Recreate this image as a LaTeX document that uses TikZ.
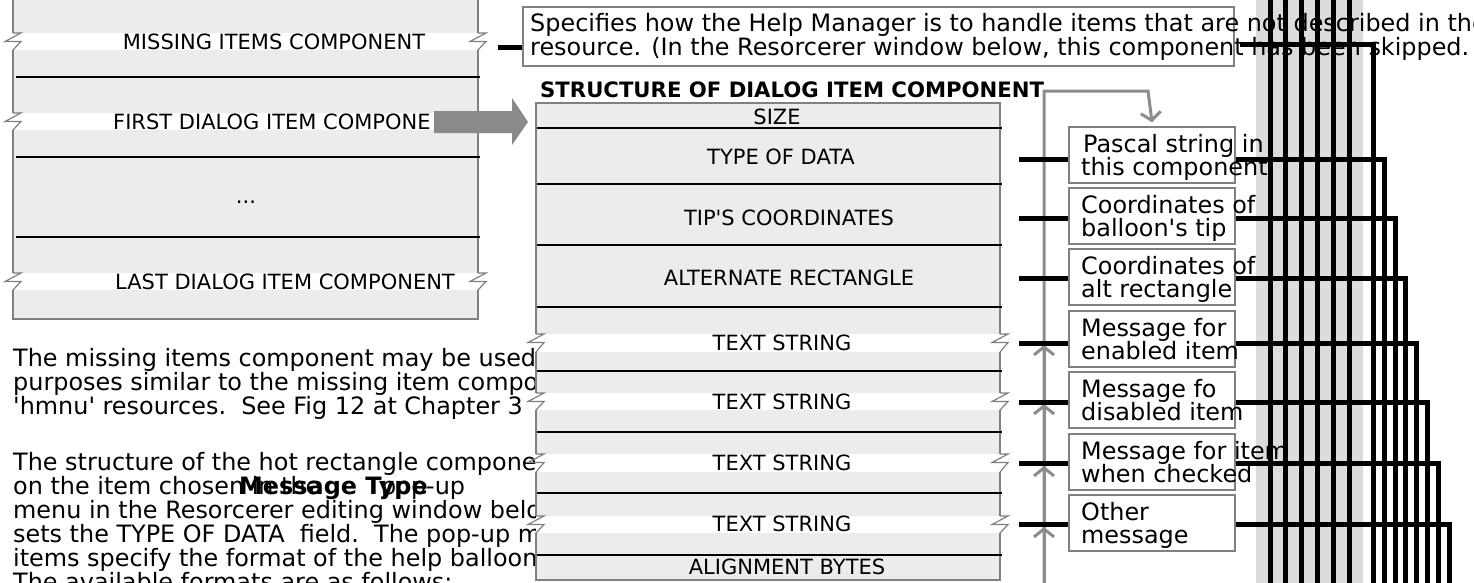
\documentclass[tikz,border=0pt]{standalone}
\usepackage{fontspec}
\setmainfont{DejaVu Sans}
\usetikzlibrary{arrows.meta}
\definecolor{blkfill}{HTML}{ECECEC}
\definecolor{bord}{HTML}{808080}
\definecolor{bandgray}{HTML}{DCDCDC}
\definecolor{arrgray}{HTML}{8A8A8A}
\definecolor{lgray}{HTML}{8C8C8C}
\newcommand{\sq}{\textquotesingle}
\newcommand{\brkmark}[3]{\draw[brd] (#1,#2) -- ++(8,0) -- ++(-16,8.5) -- ++(16,0) -- (#1,#3);}
\begin{document}
\begin{tikzpicture}[x=1pt,y=-1pt,
  lbl/.style={font=\fontsize{21}{24}\selectfont, inner sep=0},
  para/.style={font=\fontsize{23.9}{24}\selectfont, inner sep=0, anchor=base west},
  brd/.style={draw=bord, line width=1.2},
  sepline/.style={line width=2.8, black},
  conn/.style={line width=5, black, line join=miter},
  gconn/.style={line width=3, lgray, -{Straight Barb[length=8pt,width=20pt]}},
  cbox/.style={draw=bord, fill=white, line width=1.4, minimum width=166, minimum height=56, inner sep=0},
]
\useasboundingbox (0,0) rectangle (1474,582);
\fill[white] (0,0) rectangle (1474,582);
\fill[bandgray] (1256,-2) rectangle (1363,590);

% paragraphs (partly hidden by the structure block)
\node[para] (p1) at (13,366) {The missing items component may be used};
\node[para] (p2) at (13,390) {purposes similar to the missing item component};
\node[para] (p3) at (13,414) {\sq hmnu\sq\ resources.\ \ See Fig 12 at Chapter 3};
\node[para] (q1) at (13,470) {The structure of the hot rectangle component};
\node[para] (q2) at (13,494) {on the item chosen in the};
\node[para] (q2b) at (381,494) {pop-up};
\node[para,font=\fontsize{23.9}{24}\selectfont\bfseries] (q2c) at (239,494) {Message Type};
\node[para] (q3) at (13,518) {menu in the Resorcerer editing window below};
\node[para] (q4) at (13,542) {sets the TYPE OF DATA\ \ field.\ \ The pop-up menu};
\node[para] (q5) at (13,566) {items specify the format of the help balloon};
\node[para] (q6) at (13,590) {The available formats are as follows:};

% left block
\fill[blkfill] (13,-5) rectangle (478,319);
\foreach \a/\b in {33/50,113/130,273/290} \fill[white] (13,\a) rectangle (478,\b);
\draw[brd] (13,-5) -- (13,33) (13,50) -- (13,113) (13,130) -- (13,273) (13,290) -- (13,319) -- (478,319) -- (478,290)
  (478,273) -- (478,130) (478,113) -- (478,50) (478,33) -- (478,-5);
\foreach \a/\b in {33/50,113/130,273/290} {\brkmark{13}{\a}{\b}\brkmark{478}{\a}{\b}}
\foreach \y in {77,157,237} \draw[sepline] (16,\y) -- (480,\y);
\node[lbl] (mic) at (274,42) {MISSING ITEMS COMPONENT};
\node[lbl, anchor=west] (fdi) at (113,122) {FIRST DIALOG ITEM COMPONE};
\node[lbl, anchor=base] (dots) at (246,203) {...};
\node[lbl] (ldi) at (285,282) {LAST DIALOG ITEM COMPONENT};

% big grey arrow
\coordinate (ga) at (434,122);
\coordinate (gt) at (528,122);
\fill[arrgray] (ga) ++(0,-11) -- ++(78,0) -- ++(0,-13) -- (gt) -- ++(-16,23) -- ++(0,-12) -- ++(-78,0) -- cycle;

% structure block
\fill[blkfill] (536,103) rectangle (1000,580);
\foreach \a/\b in {334/352,393/410,454/472,516/533} \fill[white] (536,\a) rectangle (1000,\b);
\draw[brd] (536,334) -- (536,103) -- (1000,103) -- (1000,334)
  (536,352) -- (536,393) (536,410) -- (536,454) (536,472) -- (536,516) (536,533) -- (536,580) -- (1000,580) -- (1000,533)
  (1000,516) -- (1000,472) (1000,454) -- (1000,410) (1000,393) -- (1000,352);
\foreach \a/\b in {334/352,393/410,454/472,516/533} {\brkmark{536}{\a}{\b}\brkmark{1000}{\a}{\b}}
\foreach \y in {128,184,245,307,371,432,493,555} \draw[sepline] (537,\y) -- (1002,\y);
\node[lbl] (s1) at (777,117) {SIZE};
\node[lbl] (s2) at (781,157) {TYPE OF DATA};
\node[lbl] (s3) at (789,218) {TIP\sq S COORDINATES};
\node[lbl] (s4) at (789,278) {ALTERNATE RECTANGLE};
\node[lbl] (s5) at (782,343) {TEXT STRING};
\node[lbl] (s6) at (782,402) {TEXT STRING};
\node[lbl] (s7) at (782,463) {TEXT STRING};
\node[lbl] (s8) at (782,524) {TEXT STRING};
\node[lbl] (s9) at (787,567) {ALIGNMENT BYTES};
\node[font=\fontsize{21.2}{24}\selectfont\bfseries, inner sep=0, anchor=base west] (title) at (540,97) {STRUCTURE OF DIALOG ITEM COMPONENT};

% top description box
\node[draw=bord, line width=1.4, fill=white, minimum width=711, minimum height=59, inner sep=0] (tb) at (878.5,36.5) {};
\node[para] (tb1) at (530,31) {Specifies how the Help Manager is to handle items that are not described in the};
\node[para] (tb2) at (530,55) {resource. (In the Resorcerer window below, this component has been skipped.};
\coordinate (mi) at (498,47);
\draw[conn] (mi) -- (mi -| tb.west);

% callout boxes
\foreach \n/\t in {1/127,2/188,3/249,4/311,5/372,6/434,7/495}
  \node[cbox] (c\n) at (1152,\t+28) {};
\node[para] (c1a) at (1083,152) {Pascal string in};
\node[para] (c1b) at (1081,175) {this component};
\node[para] (c2a) at (1081,213) {Coordinates of};
\node[para] (c2b) at (1081,236) {balloon\sq s tip};
\node[para] (c3a) at (1081,274) {Coordinates of};
\node[para] (c3b) at (1081,297) {alt rectangle};
\node[para] (c4a) at (1081,336) {Message for};
\node[para] (c4b) at (1081,359) {enabled item};
\node[para] (c5a) at (1081,397) {Message fo};
\node[para] (c5b) at (1081,420) {disabled item};
\node[para] (c6a) at (1081,459) {Message for item};
\node[para] (c6b) at (1081,482) {when checked};
\node[para] (c7a) at (1081,520) {Other};
\node[para] (c7b) at (1081,543) {message};

% grey connectors
\coordinate (gs) at (1044,91);
\coordinate (gb) at (1044,590);
\draw[gconn] (gb) -- (gs) -- (1148,91) -- ([yshift=4]c1.north);
\foreach \y in {345,404,466,527} \draw[gconn] (gb) -- (1044,\y);

% black connectors
\foreach \n/\y/\X in {1/159/1384,2/218/1395,3/278/1405,4/343/1416,5/402/1427,6/463/1438,7/524/1449} {
  \coordinate (a\n) at (1019,\y);
  \draw[conn] (a\n) -- (a\n -| c\n.west);
  \draw[conn] (a\n -| c\n.east) -- (\X,\y) -- (\X,590);
}
\coordinate (tbr) at (1240,44);
\draw[conn] (tbr) -- (1373,44) -- (1373,590);
\foreach \X in {1270,1285.5,1301,1317,1333,1349} \draw[conn] (\X,-5) -- (\X,590);
\end{tikzpicture}
\end{document}
